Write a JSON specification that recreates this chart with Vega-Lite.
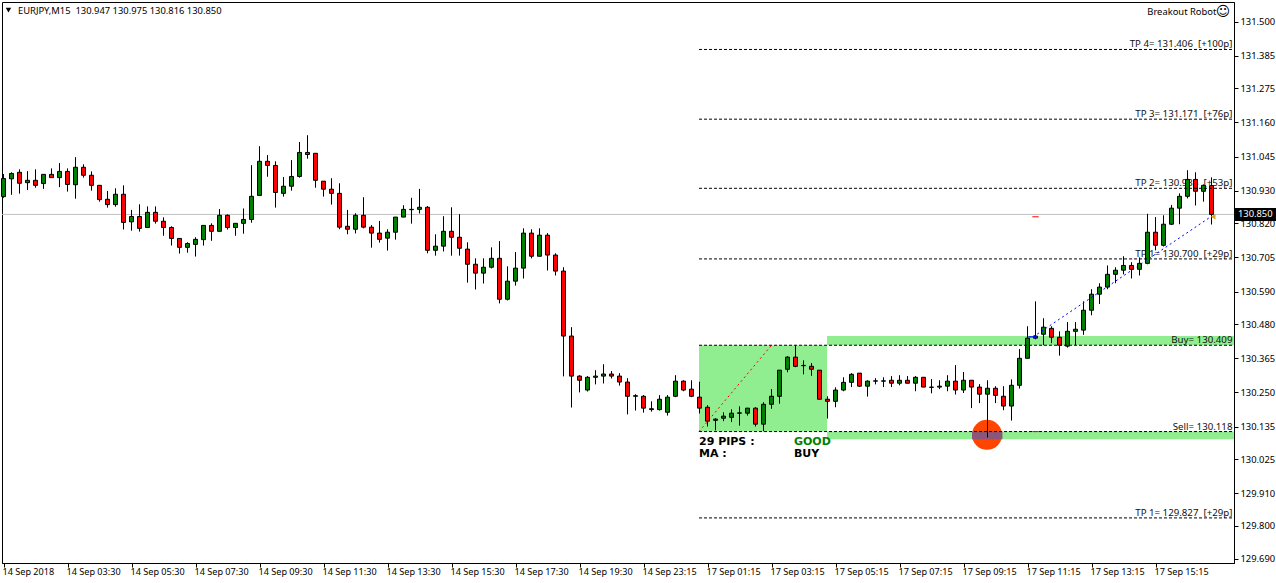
{"$schema":"https://vega.github.io/schema/vega-lite/v6.json","width":1232,"height":561,"autosize":"none","padding":{"left":2,"top":2,"right":42,"bottom":20},"background":"#ffffff","config":{"view":{"stroke":"#000000","strokeWidth":1},"axis":{"grid":false,"title":null,"domainColor":"#000000","tickColor":"#000000","labelColor":"#000000","labelFont":"Noto Sans","labelFontSize":9.4,"tickSize":4},"text":{"font":"Noto Sans","fontSize":9.4}},
"datasets":{"candles":[
{"i":0,"o":130.910,"h":130.986,"l":130.906,"c":130.971},{"i":1,"o":130.970,"h":130.992,"l":130.916,"c":130.988},{"i":2,"o":130.992,"h":131.002,"l":130.920,"c":130.955},{"i":3,"o":130.957,"h":130.996,"l":130.932,"c":130.965},{"i":4,"o":130.965,"h":131.002,"l":130.940,"c":130.948},{"i":5,"o":130.954,"h":130.985,"l":130.936,"c":130.985},{"i":6,"o":130.985,"h":131.005,"l":130.974,"c":130.974},{"i":7,"o":130.974,"h":131.023,"l":130.942,"c":130.995},{"i":8,"o":130.995,"h":131.005,"l":130.927,"c":130.951},{"i":9,"o":130.950,"h":131.043,"l":130.903,"c":131.009},
{"i":10,"o":131.009,"h":131.019,"l":130.974,"c":130.982},{"i":11,"o":130.982,"h":130.995,"l":130.930,"c":130.948},{"i":12,"o":130.948,"h":130.948,"l":130.893,"c":130.900},{"i":13,"o":130.901,"h":130.929,"l":130.873,"c":130.883},{"i":14,"o":130.883,"h":130.938,"l":130.876,"c":130.918},{"i":15,"o":130.918,"h":130.948,"l":130.799,"c":130.823},{"i":16,"o":130.825,"h":130.865,"l":130.795,"c":130.843},{"i":17,"o":130.843,"h":130.884,"l":130.792,"c":130.803},{"i":18,"o":130.806,"h":130.877,"l":130.806,"c":130.857},{"i":19,"o":130.857,"h":130.877,"l":130.819,"c":130.827},
{"i":20,"o":130.827,"h":130.840,"l":130.778,"c":130.806},{"i":21,"o":130.806,"h":130.810,"l":130.745,"c":130.769},{"i":22,"o":130.769,"h":130.769,"l":130.718,"c":130.739},{"i":23,"o":130.739,"h":130.756,"l":130.721,"c":130.752},{"i":24,"o":130.749,"h":130.773,"l":130.708,"c":130.766},{"i":25,"o":130.765,"h":130.813,"l":130.745,"c":130.813},{"i":26,"o":130.813,"h":130.820,"l":130.761,"c":130.793},{"i":27,"o":130.793,"h":130.868,"l":130.793,"c":130.847},{"i":28,"o":130.847,"h":130.850,"l":130.799,"c":130.806},{"i":29,"o":130.806,"h":130.820,"l":130.778,"c":130.820},
{"i":30,"o":130.820,"h":130.870,"l":130.785,"c":130.833},{"i":31,"o":130.833,"h":131.016,"l":130.822,"c":130.911},{"i":32,"o":130.914,"h":131.080,"l":130.914,"c":131.029},{"i":33,"o":131.029,"h":131.050,"l":130.977,"c":131.015},{"i":34,"o":131.015,"h":131.029,"l":130.873,"c":130.924},{"i":35,"o":130.921,"h":130.976,"l":130.910,"c":130.945},{"i":36,"o":130.945,"h":131.033,"l":130.930,"c":130.978},{"i":37,"o":130.978,"h":131.094,"l":130.974,"c":131.059},{"i":38,"o":131.059,"h":131.117,"l":131.038,"c":131.052},{"i":39,"o":131.056,"h":131.056,"l":130.940,"c":130.965},
{"i":40,"o":130.962,"h":130.962,"l":130.910,"c":130.935},{"i":41,"o":130.935,"h":130.972,"l":130.883,"c":130.921},{"i":42,"o":130.921,"h":130.955,"l":130.800,"c":130.807},{"i":43,"o":130.810,"h":130.865,"l":130.783,"c":130.800},{"i":44,"o":130.800,"h":130.854,"l":130.786,"c":130.847},{"i":45,"o":130.847,"h":130.908,"l":130.803,"c":130.807},{"i":46,"o":130.807,"h":130.814,"l":130.738,"c":130.787},{"i":47,"o":130.787,"h":130.828,"l":130.755,"c":130.766},{"i":48,"o":130.770,"h":130.800,"l":130.728,"c":130.790},{"i":49,"o":130.790,"h":130.841,"l":130.765,"c":130.841},
{"i":50,"o":130.841,"h":130.881,"l":130.841,"c":130.867},{"i":51,"o":130.866,"h":130.906,"l":130.819,"c":130.867},{"i":52,"o":130.867,"h":130.936,"l":130.853,"c":130.874},{"i":53,"o":130.874,"h":130.878,"l":130.719,"c":130.729},{"i":54,"o":130.729,"h":130.783,"l":130.711,"c":130.743},{"i":55,"o":130.743,"h":130.844,"l":130.725,"c":130.793},{"i":56,"o":130.793,"h":130.874,"l":130.711,"c":130.773},{"i":57,"o":130.773,"h":130.851,"l":130.711,"c":130.736},{"i":58,"o":130.733,"h":130.756,"l":130.620,"c":130.682},{"i":59,"o":130.682,"h":130.702,"l":130.597,"c":130.652},
{"i":60,"o":130.652,"h":130.702,"l":130.617,"c":130.672},{"i":61,"o":130.672,"h":130.739,"l":130.668,"c":130.702},{"i":62,"o":130.702,"h":130.760,"l":130.550,"c":130.564},{"i":63,"o":130.564,"h":130.675,"l":130.560,"c":130.625},{"i":64,"o":130.625,"h":130.723,"l":130.610,"c":130.669},{"i":65,"o":130.669,"h":130.803,"l":130.634,"c":130.787},{"i":66,"o":130.787,"h":130.800,"l":130.702,"c":130.709},{"i":67,"o":130.709,"h":130.803,"l":130.709,"c":130.780},{"i":68,"o":130.780,"h":130.787,"l":130.661,"c":130.713},{"i":69,"o":130.713,"h":130.719,"l":130.644,"c":130.659},
{"i":70,"o":130.659,"h":130.672,"l":130.304,"c":130.440},{"i":71,"o":130.440,"h":130.470,"l":130.199,"c":130.305},{"i":72,"o":130.305,"h":130.308,"l":130.250,"c":130.291},{"i":73,"o":130.258,"h":130.305,"l":130.253,"c":130.301},{"i":74,"o":130.301,"h":130.325,"l":130.277,"c":130.305},{"i":75,"o":130.305,"h":130.345,"l":130.280,"c":130.312},{"i":76,"o":130.312,"h":130.322,"l":130.297,"c":130.305},{"i":77,"o":130.305,"h":130.315,"l":130.273,"c":130.285},{"i":78,"o":130.285,"h":130.298,"l":130.176,"c":130.237},{"i":79,"o":130.237,"h":130.244,"l":130.189,"c":130.239},
{"i":80,"o":130.237,"h":130.241,"l":130.182,"c":130.197},{"i":81,"o":130.192,"h":130.220,"l":130.185,"c":130.195},{"i":82,"o":130.192,"h":130.241,"l":130.189,"c":130.227},{"i":83,"o":130.183,"h":130.241,"l":130.172,"c":130.234},{"i":84,"o":130.237,"h":130.308,"l":130.234,"c":130.288},{"i":85,"o":130.288,"h":130.291,"l":130.254,"c":130.258},{"i":86,"o":130.261,"h":130.291,"l":130.234,"c":130.237},{"i":87,"o":130.234,"h":130.286,"l":130.179,"c":130.197},{"i":88,"o":130.200,"h":130.207,"l":130.135,"c":130.153},{"i":89,"o":130.156,"h":130.163,"l":130.122,"c":130.160},
{"i":90,"o":130.163,"h":130.183,"l":130.153,"c":130.170},{"i":91,"o":130.166,"h":130.193,"l":130.150,"c":130.180},{"i":92,"o":130.180,"h":130.203,"l":130.138,"c":130.181},{"i":93,"o":130.180,"h":130.197,"l":130.172,"c":130.197},{"i":94,"o":130.197,"h":130.200,"l":130.135,"c":130.143},{"i":95,"o":130.143,"h":130.217,"l":130.119,"c":130.210},{"i":96,"o":130.210,"h":130.261,"l":130.195,"c":130.237},{"i":97,"o":130.237,"h":130.325,"l":130.212,"c":130.325},{"i":98,"o":130.328,"h":130.372,"l":130.318,"c":130.369},{"i":99,"o":130.369,"h":130.409,"l":130.335,"c":130.338},
{"i":100,"o":130.340,"h":130.358,"l":130.311,"c":130.341},{"i":101,"o":130.338,"h":130.349,"l":130.306,"c":130.328},{"i":102,"o":130.325,"h":130.325,"l":130.227,"c":130.227},{"i":103,"o":130.227,"h":130.237,"l":130.162,"c":130.220},{"i":104,"o":130.220,"h":130.267,"l":130.200,"c":130.258},{"i":105,"o":130.258,"h":130.301,"l":130.254,"c":130.284},{"i":106,"o":130.284,"h":130.315,"l":130.268,"c":130.311},{"i":107,"o":130.315,"h":130.315,"l":130.268,"c":130.271},{"i":108,"o":130.271,"h":130.291,"l":130.236,"c":130.288},{"i":109,"o":130.288,"h":130.298,"l":130.277,"c":130.289},
{"i":110,"o":130.288,"h":130.301,"l":130.268,"c":130.289},{"i":111,"o":130.291,"h":130.305,"l":130.268,"c":130.281},{"i":112,"o":130.281,"h":130.308,"l":130.274,"c":130.291},{"i":113,"o":130.291,"h":130.305,"l":130.281,"c":130.281},{"i":114,"o":130.281,"h":130.305,"l":130.254,"c":130.301},{"i":115,"o":130.301,"h":130.301,"l":130.268,"c":130.268},{"i":116,"o":130.267,"h":130.295,"l":130.247,"c":130.268},{"i":117,"o":130.268,"h":130.291,"l":130.261,"c":130.271},{"i":118,"o":130.271,"h":130.308,"l":130.254,"c":130.288},{"i":119,"o":130.288,"h":130.342,"l":130.243,"c":130.258},
{"i":120,"o":130.258,"h":130.319,"l":130.248,"c":130.291},{"i":121,"o":130.291,"h":130.291,"l":130.197,"c":130.268},{"i":122,"o":130.268,"h":130.278,"l":130.214,"c":130.244},{"i":123,"o":130.244,"h":130.291,"l":130.098,"c":130.264},{"i":124,"o":130.264,"h":130.271,"l":130.214,"c":130.240},{"i":125,"o":130.237,"h":130.271,"l":130.190,"c":130.204},{"i":126,"o":130.204,"h":130.294,"l":130.155,"c":130.274},{"i":127,"o":130.274,"h":130.396,"l":130.263,"c":130.365},{"i":128,"o":130.365,"h":130.473,"l":130.365,"c":130.433},{"i":129,"o":130.433,"h":130.557,"l":130.429,"c":130.440},
{"i":130,"o":130.446,"h":130.500,"l":130.409,"c":130.470},{"i":131,"o":130.466,"h":130.473,"l":130.416,"c":130.436},{"i":132,"o":130.436,"h":130.456,"l":130.374,"c":130.409},{"i":133,"o":130.406,"h":130.487,"l":130.401,"c":130.456},{"i":134,"o":130.456,"h":130.487,"l":130.409,"c":130.463},{"i":135,"o":130.460,"h":130.557,"l":130.444,"c":130.527},{"i":136,"o":130.527,"h":130.598,"l":130.510,"c":130.581},{"i":137,"o":130.581,"h":130.618,"l":130.548,"c":130.605},{"i":138,"o":130.605,"h":130.678,"l":130.598,"c":130.648},{"i":139,"o":130.648,"h":130.672,"l":130.618,"c":130.662},
{"i":140,"o":130.662,"h":130.709,"l":130.648,"c":130.678},{"i":141,"o":130.678,"h":130.689,"l":130.634,"c":130.665},{"i":142,"o":130.665,"h":130.705,"l":130.644,"c":130.685},{"i":143,"o":130.685,"h":130.852,"l":130.682,"c":130.790},{"i":144,"o":130.790,"h":130.841,"l":130.729,"c":130.746},{"i":145,"o":130.746,"h":130.847,"l":130.742,"c":130.817},{"i":146,"o":130.817,"h":130.882,"l":130.814,"c":130.871},{"i":147,"o":130.871,"h":130.921,"l":130.817,"c":130.911},{"i":148,"o":130.911,"h":130.999,"l":130.904,"c":130.968},{"i":149,"o":130.968,"h":130.992,"l":130.880,"c":130.928},
{"i":150,"o":130.928,"h":130.951,"l":130.893,"c":130.948},{"i":151,"o":130.947,"h":130.975,"l":130.816,"c":130.850}],
"zones":[{"name":"range","i":86.94,"i2":102.94,"p":130.409,"p2":130.118},{"name":"buy","i":102.94,"i2":153.8,"p":130.409,"p2":130.44},{"name":"sell","i":102.94,"i2":153.8,"p":130.118,"p2":130.092}],
"levels":[{"i":86.94,"i2":153.8,"p":131.406},{"i":86.94,"i2":153.8,"p":131.171},{"i":86.94,"i2":153.8,"p":130.938},{"i":86.94,"i2":153.8,"p":130.7},{"i":86.94,"i2":153.8,"p":130.409},{"i":86.94,"i2":153.8,"p":130.118},{"i":86.94,"i2":153.8,"p":129.827}],
"levelLabels":[{"label":"TP 4= 131.406\u00a0\u00a0[+100p]","i":153.62,"p":131.406},{"label":"TP 3= 131.171\u00a0\u00a0[+76p]","i":153.62,"p":131.171},{"label":"TP 2= 130.938\u00a0\u00a0[+53p]","i":153.62,"p":130.938},{"label":"TP 1= 130.700\u00a0\u00a0[+29p]","i":153.62,"p":130.7},{"label":"Buy= 130.409","i":153.62,"p":130.409},{"label":"Sell= 130.118","i":153.62,"p":130.118},{"label":"TP 1= 129.827\u00a0\u00a0[+29p]","i":153.62,"p":129.827}]},
"data":{"name":"candles"},
"encoding":{"x":{"field":"i","type":"quantitative","scale":{"domain":[-0.1875,153.8125],"nice":false,"zero":false,"padding":0},"axis":{"values":[0,8,16,24,32,40,48,56,64,72,80,88,96,104,112,120,128,136,144],"labelExpr":"['14 Sep 2018','14 Sep 03:30','14 Sep 05:30','14 Sep 07:30','14 Sep 09:30','14 Sep 11:30','14 Sep 13:30','14 Sep 15:30','14 Sep 17:30','14 Sep 19:30','14 Sep 23:15','17 Sep 01:15','17 Sep 03:15','17 Sep 05:15','17 Sep 07:15','17 Sep 09:15','17 Sep 11:15','17 Sep 13:15','17 Sep 15:15'][datum.value/8]","labelAlign":"left","labelPadding":0,"labelOffset":-1.5,"labelFontSize":9.1,"labelOverlap":false,"labelFlush":false,"title":null}},
"y":{"field":"p","type":"quantitative","scale":{"domain":[129.675,131.566],"nice":false,"zero":false},"axis":{"orient":"right","format":".3f","values":[131.5,131.385,131.275,131.16,131.045,130.93,130.82,130.705,130.59,130.48,130.365,130.25,130.135,130.025,129.91,129.8,129.69],"labelOverlap":false,"labelFlush":false,"labelPadding":2,"title":null}}},
"layer":[
{"data":{"name":"zones"},"mark":{"type":"rect","color":"#90EE90"},"encoding":{"x2":{"field":"i2"},"y2":{"field":"p2"}}},
{"data":{"values":[{"i":-0.1875,"i2":153.8125,"p":130.85}]},"mark":{"type":"rule","color":"#c0c0c0","strokeWidth":1},"encoding":{"x2":{"field":"i2"}}},
{"data":{"values":[{"i":122.94,"p":130.107}]},"mark":{"type":"point","shape":"circle","filled":true,"size":900,"color":"#FF4500","opacity":1}},
{"data":{"values":[{"i":121.06,"i2":124.87,"p":130.118,"p2":130.092}]},"mark":{"type":"rect","color":"#8C5678"},"encoding":{"x2":{"field":"i2"},"y2":{"field":"p2"}}},
{"data":{"name":"levelLabels"},"mark":{"type":"text","align":"right","baseline":"middle","dy":-5,"color":"#111111","fontSize":9.7},"encoding":{"text":{"field":"label"}}},
{"data":{"values":[{"i":86.94,"p":130.118},{"i":96.0,"p":130.409}]},"mark":{"type":"line","color":"#ff0000","strokeWidth":1,"strokeDash":[2,3]}},
{"mark":{"type":"rule","color":"#000000","strokeWidth":1},"encoding":{"y":{"field":"h","type":"quantitative","scale":{"domain":[129.675,131.566],"nice":false,"zero":false},"axis":{"orient":"right","format":".3f","values":[131.5,131.385,131.275,131.16,131.045,130.93,130.82,130.705,130.59,130.48,130.365,130.25,130.135,130.025,129.91,129.8,129.69],"labelOverlap":false,"labelFlush":false,"labelPadding":2,"title":null}},"y2":{"field":"l"}}},
{"mark":{"type":"bar","size":4,"stroke":"#000000","strokeWidth":1},"encoding":{"y":{"field":"o","type":"quantitative","scale":{"domain":[129.675,131.566],"nice":false,"zero":false},"axis":{"orient":"right","format":".3f","values":[131.5,131.385,131.275,131.16,131.045,130.93,130.82,130.705,130.59,130.48,130.365,130.25,130.135,130.025,129.91,129.8,129.69],"labelOverlap":false,"labelFlush":false,"labelPadding":2,"title":null}},"y2":{"field":"c"},"color":{"condition":{"test":"datum.c<datum.o","value":"#ff0000"},"value":"#008000"}}},
{"data":{"name":"levels"},"mark":{"type":"rule","color":"#000000","strokeWidth":1,"strokeDash":[3,2]},"encoding":{"x2":{"field":"i2"}}},
{"data":{"values":[{"i":128.7,"p":130.437},{"i":150.9,"p":130.842}]},"mark":{"type":"line","color":"#0000ff","strokeWidth":1,"strokeDash":[2,3]}},
{"data":{"values":[{"i":128.6,"i2":129.4,"p":130.842},{"i":128.6,"i2":129.4,"p":130.118}]},"mark":{"type":"rule","color":"#ff0000","strokeWidth":1},"encoding":{"x2":{"field":"i2"}}},
{"data":{"values":[{"i":128.7,"p":130.437}]},"mark":{"type":"point","shape":"arrow","angle":90,"filled":true,"size":90,"color":"#0000ff","opacity":1}},
{"data":{"values":[{"i":151.2,"p":130.842}]},"mark":{"type":"point","shape":"triangle-left","filled":true,"size":30,"color":"#DAA520","opacity":1}},
{"data":{"values":[{"i":86.94,"p":130.083,"t":"29 PIPS :","k":"a"},{"i":86.94,"p":130.043,"t":"MA :","k":"a"},{"i":98.8,"p":130.043,"t":"BUY","k":"a"},{"i":98.8,"p":130.083,"t":"GOOD","k":"b"}]},"mark":{"type":"text","align":"left","baseline":"middle","font":"DejaVu Sans","fontWeight":"bold","fontSize":11},"encoding":{"text":{"field":"t"},"color":{"condition":{"test":"datum.k=='b'","value":"#008000"},"value":"#000000"}}},
{"data":{"values":[{"i":1.81,"p":131.536,"t":"EURJPY,M15\u00a0\u00a0130.947 130.975 130.816 130.850"}]},"mark":{"type":"text","align":"left","baseline":"middle","color":"#000000"},"encoding":{"text":{"field":"t"}}},
{"data":{"values":[{"i":151.6,"p":131.532,"t":"Breakout Robot"}]},"mark":{"type":"text","align":"right","baseline":"middle","color":"#000000"},"encoding":{"text":{"field":"t"}}},
{"data":{"values":[{"i":152.45,"p":131.532,"t":"☺"}]},"mark":{"type":"text","align":"center","baseline":"middle","font":"DejaVu Sans","fontSize":14,"color":"#000000"},"encoding":{"text":{"field":"t"}}},
{"data":{"values":[{"i":0.62,"p":131.539}]},"mark":{"type":"point","shape":"triangle-down","filled":true,"size":30,"color":"#000000","opacity":1}},
{"data":{"values":[{"i":153.94,"i2":159.06,"p":130.872,"p2":130.828}]},"mark":{"type":"rect","color":"#000000"},"encoding":{"x2":{"field":"i2"},"y2":{"field":"p2"}}},
{"data":{"values":[{"i":154.3,"p":130.85,"t":"130.850"}]},"mark":{"type":"text","align":"left","baseline":"middle","color":"#ffffff"},"encoding":{"text":{"field":"t"}}}
]}
